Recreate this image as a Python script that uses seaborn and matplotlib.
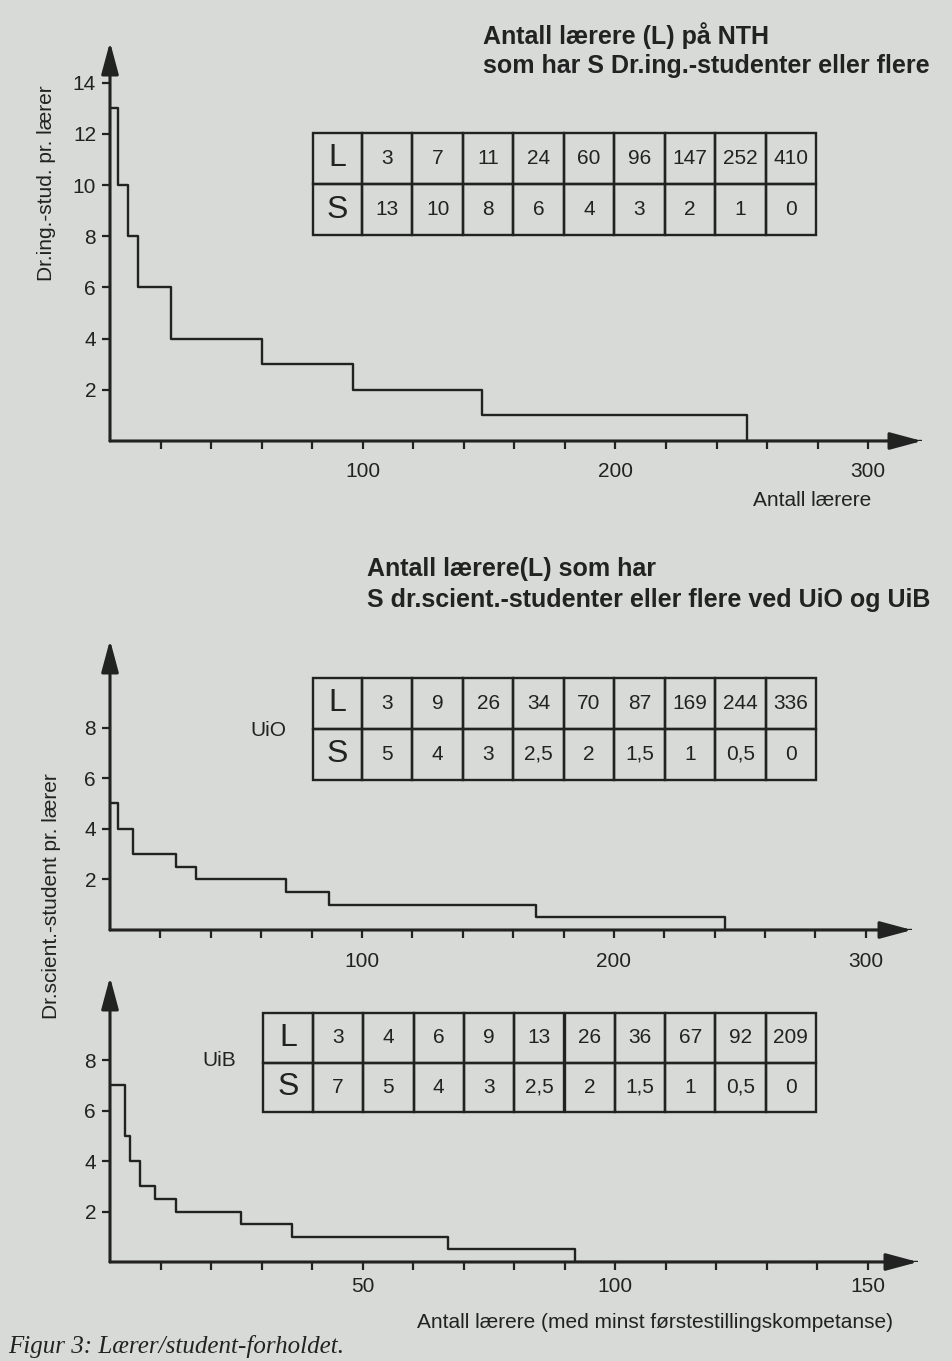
import matplotlib
matplotlib.use('Agg')
import matplotlib.pyplot as plt
from matplotlib.ticker import FuncFormatter
import numpy as np
import pandas as pd
import seaborn as sns

# data: L = antall lærere, S = studenter pr. lærer (S eller flere)
nth_L = [3, 7, 11, 24, 60, 96, 147, 252, 410]
nth_S = [13, 10, 8, 6, 4, 3, 2, 1, 0]
uio_L = [3, 9, 26, 34, 70, 87, 169, 244, 336]
uio_S = [5, 4, 3, 2.5, 2, 1.5, 1, 0.5, 0]
uib_L = [3, 4, 6, 9, 13, 26, 36, 67, 92, 209]
uib_S = [7, 5, 4, 3, 2.5, 2, 1.5, 1, 0.5, 0]

W, H = 953, 1361
ink = '#222222'
bg = '#d7dad6'

sns.set_theme(style='ticks')
plt.rcParams['font.family'] = ['Liberation Sans', 'DejaVu Sans']
plt.rcParams['text.color'] = ink


def box(x0, y0, x1, y1):
    # pixel rectangle -> figure fraction
    return [x0 / W, 1 - y1 / H, (x1 - x0) / W, (y1 - y0) / H]


def fmt(v):
    return str(int(v)) if float(v).is_integer() else str(v).replace('.', ',')


def step_chart(ax, L, S, xmax, ymax, xticks, lab_every, yticks, xpad):
    df = pd.DataFrame({'L': [0] + L, 'S': [S[0]] + S})
    sns.lineplot(data=df, x='L', y='S', drawstyle='steps-pre', estimator=None,
                 sort=False, color=ink, lw=1.7, ax=ax)
    ax.set_xlim(0, xmax)
    ax.set_ylim(0, ymax)
    ax.set_facecolor('none')
    for s in ax.spines.values():
        s.set_visible(False)
    ax.set_xticks(xticks)
    ax.xaxis.set_major_formatter(FuncFormatter(
        lambda v, p: f'{int(v)}' if round(v) % lab_every == 0 else ''))
    ax.set_yticks(yticks)
    ax.yaxis.set_major_formatter(FuncFormatter(lambda v, p: f'{int(v)}'))
    ax.tick_params(axis='both', direction='out', length=6, width=1.6,
                   labelsize=15, color=ink, labelcolor=ink)
    ax.tick_params(axis='x', pad=xpad)
    ax.tick_params(axis='y', pad=4)
    ax.set_xlabel('')
    ax.set_ylabel('')
    arrow = dict(arrowstyle='-|>,head_length=1.3,head_width=0.35', color=ink,
                 lw=2.2, shrinkA=0, shrinkB=0, mutation_scale=15)
    ax.annotate('', xy=(1, 0), xytext=(0, 0), xycoords='axes fraction',
                textcoords='axes fraction', arrowprops=arrow, annotation_clip=False)
    ax.annotate('', xy=(0, 1), xytext=(0, 0), xycoords='axes fraction',
                textcoords='axes fraction', arrowprops=arrow, annotation_clip=False)


def value_table(rect, L, S, first_w):
    tax = fig.add_axes(box(*rect))
    tax.axis('off')
    cells = [['L'] + [str(v) for v in L], ['S'] + [fmt(v) for v in S]]
    rest = (1 - first_w) / len(L)
    tb = tax.table(cellText=cells, cellLoc='center', bbox=[0, 0, 1, 1],
                   colWidths=[first_w] + [rest] * len(L))
    tb.auto_set_font_size(False)
    tb.set_fontsize(15)
    for (r, c), cell in tb.get_celld().items():
        cell.set_facecolor('none')
        cell.set_edgecolor(ink)
        cell.set_linewidth(1.7)
        cell.get_text().set_color(ink)
        if c == 0:
            cell.get_text().set_fontsize(23)


fig = plt.figure(figsize=(W / 100, H / 100), dpi=100, facecolor=bg)

# NTH
ax1 = fig.add_axes(box(110, 42, 922, 441))
step_chart(ax1, nth_L, nth_S, 321.3, 15.59, np.arange(20, 301, 20), 100,
           np.arange(2, 15, 2), 9)
fig.text(483 / W, 1 - 36 / H, 'Antall lærere (L) på NTH', fontsize=18,
         fontweight='bold', va='center', ha='left')
fig.text(483 / W, 1 - 66 / H, 'som har S Dr.ing.-studenter eller flere', fontsize=18,
         fontweight='bold', va='center', ha='left')
value_table((313, 133, 816, 235), nth_L, nth_S, 49 / 503)
fig.text(47 / W, 1 - 183 / H, 'Dr.ing.-stud. pr. lærer', fontsize=15,
         rotation=90, va='center', ha='center')
fig.text(812 / W, 1 - 501 / H, 'Antall lærere', fontsize=15, va='center', ha='center')

# UiO
ax2 = fig.add_axes(box(110, 640, 912, 930))
step_chart(ax2, uio_L, uio_S, 318.3, 11.46, np.arange(20, 301, 20), 100,
           np.arange(2, 9, 2), 10)
fig.text(367 / W, 1 - 569 / H, 'Antall lærere(L) som har', fontsize=18,
         fontweight='bold', va='center', ha='left')
fig.text(367 / W, 1 - 600 / H, 'S dr.scient.-studenter eller flere ved UiO og UiB',
         fontsize=18, fontweight='bold', va='center', ha='left')
value_table((313, 678, 816, 780), uio_L, uio_S, 49 / 503)
fig.text(268 / W, 1 - 730 / H, 'UiO', fontsize=15, va='center', ha='center')
fig.text(52 / W, 1 - 896 / H, 'Dr.scient.-student pr. lærer', fontsize=15,
         rotation=90, va='center', ha='center')

# UiB
ax3 = fig.add_axes(box(110, 977, 918, 1262))
step_chart(ax3, uib_L, uib_S, 160, 11.29, np.arange(10, 151, 10), 50,
           np.arange(2, 9, 2), 5)
value_table((263, 1013, 816, 1112), uib_L, uib_S, 50 / 553)
fig.text(219 / W, 1 - 1060 / H, 'UiB', fontsize=15, va='center', ha='center')
fig.text(655 / W, 1 - 1323 / H, 'Antall lærere (med minst førstestillingskompetanse)',
         fontsize=15, va='center', ha='center')

fig.text(8 / W, 1 - 1347 / H, 'Figur 3: Lærer/student-forholdet.', fontsize=18,
         family=['Liberation Serif', 'DejaVu Serif'], style='italic',
         va='center', ha='left')

fig.savefig('out.png', dpi=100, facecolor=bg)
